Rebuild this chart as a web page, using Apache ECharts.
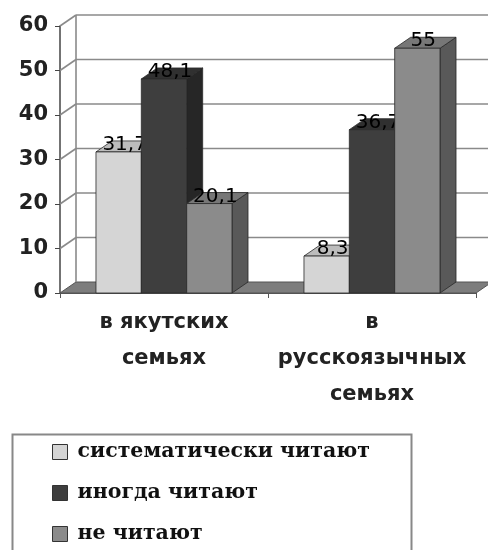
<!DOCTYPE html>
<html>
<head>
<meta charset="utf-8">
<script src="https://cdn.jsdelivr.net/npm/echarts@6/dist/echarts.min.js"></script>
<style>
  html, body { margin: 0; padding: 0; background: #ffffff; }
  #chart { width: 488px; height: 550px; }
</style>
</head>
<body>
<div id="chart"></div>
<script>
// Reading habits by family language
var categories = ['в якутских\nсемьях', 'в\nрусскоязычных\nсемьях'];
var seriesNames = ['систематически читают', 'иногда читают', 'не читают'];
var systematic = [31.7, 8.3];
var sometimes = [48.1, 36.7];
var never = [20.1, 55];
var yTicks = [0, 10, 20, 30, 40, 50, 60];

// Shading for each series: front, top, side faces
var shades = [
  { front: '#d5d5d5', top: '#bcbcbc', side: '#a4a4a4' },
  { front: '#3e3e3e', top: '#303030', side: '#262626' },
  { front: '#8b8b8b', top: '#777777', side: '#595959' }
];

var DEPTH_X = 16, DEPTH_Y = 11;   // oblique depth of the 3D box
var BAR_FRAC = 0.218;             // bar width as share of category width

function fmt(v) { return String(v).replace('.', ','); }

function barRenderer(sIdx) {
  return function (params, api) {
    var cat = api.value(0), val = api.value(1);
    var top = api.coord([cat, val]);
    var base = api.coord([cat, 0]);
    var cw = api.size([1, 0])[0];
    var bw = cw * BAR_FRAC;
    var xl = top[0] - 1.5 * bw + sIdx * bw;
    var xr = xl + bw;
    var yt = top[1], yb = base[1];
    var sh = shades[sIdx];
    var edge = { stroke: '#2a2a2a', lineWidth: 0.8 };
    return {
      type: 'group',
      children: [
        { type: 'polygon', shape: { points: [[xr, yt], [xr + DEPTH_X, yt - DEPTH_Y], [xr + DEPTH_X, yb - DEPTH_Y], [xr, yb]] },
          style: Object.assign({ fill: sh.side }, edge) },
        { type: 'polygon', shape: { points: [[xl, yt], [xl + DEPTH_X, yt - DEPTH_Y], [xr + DEPTH_X, yt - DEPTH_Y], [xr, yt]] },
          style: Object.assign({ fill: sh.top }, edge) },
        { type: 'rect', shape: { x: xl, y: yt, width: bw, height: yb - yt },
          style: Object.assign({ fill: sh.front }, edge) },
        { type: 'text', style: { text: fmt(val), x: (xl + xr) / 2 + 6, y: yt + 3,
          align: 'center', verticalAlign: 'bottom', fill: '#000',
          fontFamily: 'DejaVu Sans', fontSize: 20 } }
      ]
    };
  };
}

// Walls, floor and gridlines of the 3D box
function wallRenderer(params, api) {
  var cs = params.coordSys;
  var x0 = cs.x, x1 = cs.x + cs.width;
  var yb = api.coord([0, yTicks[0]])[1];
  var ytop = api.coord([0, yTicks[yTicks.length - 1]])[1];
  var line = { stroke: '#8a8a8a', lineWidth: 1.6 };
  var children = [
    { type: 'polygon', shape: { points: [[x0, yb], [x0 + DEPTH_X, yb - DEPTH_Y], [x1 + DEPTH_X, yb - DEPTH_Y], [x1, yb]] },
      style: { fill: '#7d7d7d', stroke: '#555', lineWidth: 1 } },
    { type: 'line', shape: { x1: x0 + DEPTH_X, y1: yb - DEPTH_Y, x2: x0 + DEPTH_X, y2: ytop - DEPTH_Y }, style: line }
  ];
  yTicks.forEach(function (v) {
    if (v === 0) return;
    var y = api.coord([0, v])[1];
    children.push({ type: 'line', shape: { x1: x0, y1: y, x2: x0 + DEPTH_X, y2: y - DEPTH_Y }, style: line });
    children.push({ type: 'line', shape: { x1: x0 + DEPTH_X, y1: y - DEPTH_Y, x2: x1 + DEPTH_X, y2: y - DEPTH_Y }, style: line });
  });
  return { type: 'group', children: children };
}

function toData(values) {
  return values.map(function (v, i) { return [i, v]; });
}

var seriesValues = [systematic, sometimes, never];

var series = [{
  type: 'custom', name: 'walls', silent: true, z: 1,
  renderItem: wallRenderer, data: [[0, 0]]
}];
seriesValues.forEach(function (vals, i) {
  series.push({
    type: 'custom', name: seriesNames[i], z: 2,
    itemStyle: { color: shades[i].front },
    renderItem: barRenderer(i),
    encode: { x: 0, y: 1 },
    data: toData(vals)
  });
});

var chart = echarts.init(document.getElementById('chart'), null, { renderer: 'canvas' });
chart.setOption({
  animation: false,
  backgroundColor: '#ffffff',
  grid: { left: 60, right: 12, top: 26, bottom: 257, containLabel: false },
  xAxis: {
    type: 'category', data: categories,
    axisLine: { show: true, lineStyle: { color: '#555', width: 1 } },
    axisTick: { show: true, length: 5, lineStyle: { color: '#555' } },
    axisLabel: { interval: 0, margin: 12, color: '#222', fontFamily: 'DejaVu Sans',
                 fontWeight: 'bold', fontSize: 21, lineHeight: 36 },
    splitLine: { show: false }
  },
  yAxis: {
    type: 'value', min: 0, max: 60, interval: 10,
    axisLine: { show: true, lineStyle: { color: '#444', width: 1.5 } },
    axisTick: { show: true, length: 5, lineStyle: { color: '#444' } },
    axisLabel: { margin: 12, color: '#222', fontFamily: 'DejaVu Sans',
                 fontWeight: 'bold', fontSize: 21 },
    splitLine: { show: false }
  },
  legend: {
    data: seriesNames, orient: 'vertical', left: 52, top: 441, padding: 0,
    icon: 'rect', itemWidth: 15, itemHeight: 15, itemGap: 19,
    itemStyle: { borderColor: '#333', borderWidth: 1 },
    textStyle: { fontFamily: 'DejaVu Serif', fontWeight: 'bold', fontSize: 20.5,
                 lineHeight: 22, color: '#111', padding: [0, 0, 0, 5] }
  },
  graphic: [{
    type: 'rect', left: 10, top: 432, silent: true,
    shape: { width: 399, height: 140 },
    style: { fill: 'none', stroke: '#888', lineWidth: 2 }
  }],
  series: series
});
</script>
</body>
</html>
